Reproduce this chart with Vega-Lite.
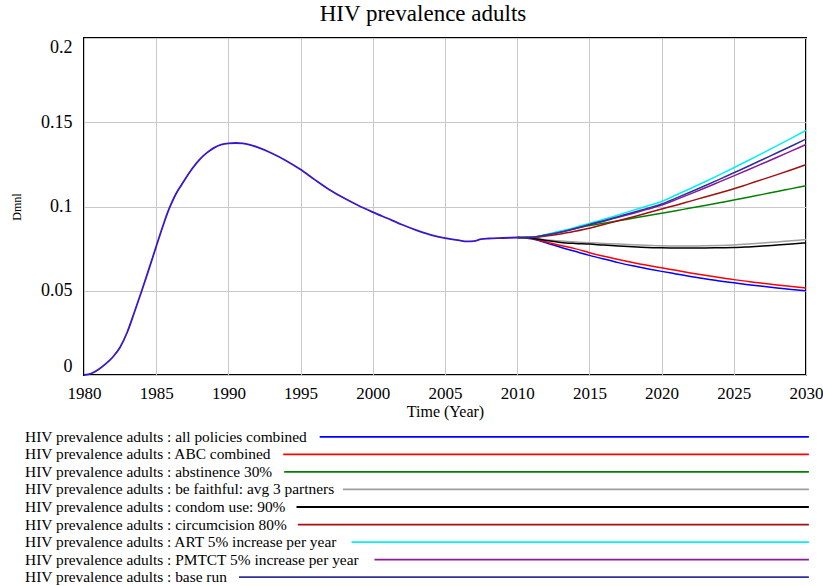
{
  "$schema": "https://vega.github.io/schema/vega-lite/v6.json",
  "background": "white",
  "padding": {"left": 9, "top": 2, "right": 10, "bottom": 0},
  "spacing": 8,
  "config": {"font": "Liberation Serif", "concat": {"spacing": 8}},
  "datasets": {
    "history": [
      {"year": 1980, "value": 0}, {"year": 1980.5, "value": 0.0009}, {"year": 1981, "value": 0.0033},
      {"year": 1981.5, "value": 0.0066}, {"year": 1982, "value": 0.0107}, {"year": 1982.5, "value": 0.0165},
      {"year": 1983, "value": 0.0255}, {"year": 1983.5, "value": 0.0375}, {"year": 1984, "value": 0.05},
      {"year": 1984.5, "value": 0.063}, {"year": 1985, "value": 0.0763}, {"year": 1985.5, "value": 0.0893},
      {"year": 1985.75, "value": 0.0955}, {"year": 1986, "value": 0.1008}, {"year": 1986.25, "value": 0.1055},
      {"year": 1986.5, "value": 0.1095}, {"year": 1986.75, "value": 0.1128}, {"year": 1987, "value": 0.1162},
      {"year": 1987.5, "value": 0.1225}, {"year": 1988, "value": 0.1278}, {"year": 1988.5, "value": 0.1318},
      {"year": 1989, "value": 0.1348}, {"year": 1989.5, "value": 0.1367}, {"year": 1990, "value": 0.1375},
      {"year": 1990.5, "value": 0.1377}, {"year": 1991, "value": 0.1375}, {"year": 1991.5, "value": 0.1366},
      {"year": 1992, "value": 0.1352}, {"year": 1993, "value": 0.1316}, {"year": 1994, "value": 0.1272},
      {"year": 1995, "value": 0.1219}, {"year": 1996, "value": 0.1158}, {"year": 1997, "value": 0.11},
      {"year": 1998, "value": 0.105}, {"year": 1999, "value": 0.1006}, {"year": 2000, "value": 0.0967},
      {"year": 2001, "value": 0.093}, {"year": 2002, "value": 0.0893}, {"year": 2003, "value": 0.086},
      {"year": 2004, "value": 0.0832}, {"year": 2005, "value": 0.0812}, {"year": 2006, "value": 0.0799},
      {"year": 2006.5, "value": 0.0793}, {"year": 2007, "value": 0.0795}, {"year": 2007.5, "value": 0.0806},
      {"year": 2008, "value": 0.081}, {"year": 2009, "value": 0.0813}, {"year": 2010, "value": 0.0816}
    ],
    "scenarios": [
      {"series": "all policies combined", "year": 2010, "value": 0.0816},
      {"series": "all policies combined", "year": 2011, "value": 0.0808},
      {"series": "all policies combined", "year": 2012, "value": 0.0784},
      {"series": "all policies combined", "year": 2013, "value": 0.0758},
      {"series": "all policies combined", "year": 2014, "value": 0.0734},
      {"series": "all policies combined", "year": 2015, "value": 0.071},
      {"series": "all policies combined", "year": 2016, "value": 0.0688},
      {"series": "all policies combined", "year": 2017, "value": 0.0667},
      {"series": "all policies combined", "year": 2018, "value": 0.0648},
      {"series": "all policies combined", "year": 2019, "value": 0.0631},
      {"series": "all policies combined", "year": 2020, "value": 0.0615},
      {"series": "all policies combined", "year": 2021, "value": 0.06},
      {"series": "all policies combined", "year": 2022, "value": 0.0585},
      {"series": "all policies combined", "year": 2023, "value": 0.0571},
      {"series": "all policies combined", "year": 2024, "value": 0.0558},
      {"series": "all policies combined", "year": 2025, "value": 0.0547},
      {"series": "all policies combined", "year": 2026, "value": 0.0536},
      {"series": "all policies combined", "year": 2027, "value": 0.0526},
      {"series": "all policies combined", "year": 2028, "value": 0.0517},
      {"series": "all policies combined", "year": 2029, "value": 0.0508},
      {"series": "all policies combined", "year": 2030, "value": 0.05},
      {"series": "ABC combined", "year": 2010, "value": 0.0816},
      {"series": "ABC combined", "year": 2011, "value": 0.081},
      {"series": "ABC combined", "year": 2012, "value": 0.079},
      {"series": "ABC combined", "year": 2013, "value": 0.0769},
      {"series": "ABC combined", "year": 2014, "value": 0.075},
      {"series": "ABC combined", "year": 2015, "value": 0.0726},
      {"series": "ABC combined", "year": 2016, "value": 0.0705},
      {"series": "ABC combined", "year": 2017, "value": 0.0686},
      {"series": "ABC combined", "year": 2018, "value": 0.0668},
      {"series": "ABC combined", "year": 2019, "value": 0.0651},
      {"series": "ABC combined", "year": 2020, "value": 0.0636},
      {"series": "ABC combined", "year": 2021, "value": 0.0621},
      {"series": "ABC combined", "year": 2022, "value": 0.0606},
      {"series": "ABC combined", "year": 2023, "value": 0.0592},
      {"series": "ABC combined", "year": 2024, "value": 0.0579},
      {"series": "ABC combined", "year": 2025, "value": 0.0566},
      {"series": "ABC combined", "year": 2026, "value": 0.0555},
      {"series": "ABC combined", "year": 2027, "value": 0.0544},
      {"series": "ABC combined", "year": 2028, "value": 0.0534},
      {"series": "ABC combined", "year": 2029, "value": 0.0525},
      {"series": "ABC combined", "year": 2030, "value": 0.0516},
      {"series": "abstinence 30%", "year": 2010, "value": 0.0816},
      {"series": "abstinence 30%", "year": 2011, "value": 0.0817},
      {"series": "abstinence 30%", "year": 2012, "value": 0.0832},
      {"series": "abstinence 30%", "year": 2013, "value": 0.0851},
      {"series": "abstinence 30%", "year": 2014, "value": 0.0869},
      {"series": "abstinence 30%", "year": 2015, "value": 0.0887},
      {"series": "abstinence 30%", "year": 2016, "value": 0.0901},
      {"series": "abstinence 30%", "year": 2017, "value": 0.0915},
      {"series": "abstinence 30%", "year": 2018, "value": 0.093},
      {"series": "abstinence 30%", "year": 2019, "value": 0.0945},
      {"series": "abstinence 30%", "year": 2020, "value": 0.096},
      {"series": "abstinence 30%", "year": 2021, "value": 0.0975},
      {"series": "abstinence 30%", "year": 2022, "value": 0.0991},
      {"series": "abstinence 30%", "year": 2023, "value": 0.1006},
      {"series": "abstinence 30%", "year": 2024, "value": 0.1022},
      {"series": "abstinence 30%", "year": 2025, "value": 0.1038},
      {"series": "abstinence 30%", "year": 2026, "value": 0.1055},
      {"series": "abstinence 30%", "year": 2027, "value": 0.1072},
      {"series": "abstinence 30%", "year": 2028, "value": 0.1089},
      {"series": "abstinence 30%", "year": 2029, "value": 0.1106},
      {"series": "abstinence 30%", "year": 2030, "value": 0.1123},
      {"series": "be faithful: avg 3 partners", "year": 2010, "value": 0.0816},
      {"series": "be faithful: avg 3 partners", "year": 2011, "value": 0.0813},
      {"series": "be faithful: avg 3 partners", "year": 2012, "value": 0.0803},
      {"series": "be faithful: avg 3 partners", "year": 2013, "value": 0.0795},
      {"series": "be faithful: avg 3 partners", "year": 2014, "value": 0.0789},
      {"series": "be faithful: avg 3 partners", "year": 2015, "value": 0.0785},
      {"series": "be faithful: avg 3 partners", "year": 2016, "value": 0.0781},
      {"series": "be faithful: avg 3 partners", "year": 2017, "value": 0.0777},
      {"series": "be faithful: avg 3 partners", "year": 2018, "value": 0.0773},
      {"series": "be faithful: avg 3 partners", "year": 2019, "value": 0.077},
      {"series": "be faithful: avg 3 partners", "year": 2020, "value": 0.0767},
      {"series": "be faithful: avg 3 partners", "year": 2021, "value": 0.0766},
      {"series": "be faithful: avg 3 partners", "year": 2022, "value": 0.0766},
      {"series": "be faithful: avg 3 partners", "year": 2023, "value": 0.0767},
      {"series": "be faithful: avg 3 partners", "year": 2024, "value": 0.0769},
      {"series": "be faithful: avg 3 partners", "year": 2025, "value": 0.0772},
      {"series": "be faithful: avg 3 partners", "year": 2026, "value": 0.0777},
      {"series": "be faithful: avg 3 partners", "year": 2027, "value": 0.0783},
      {"series": "be faithful: avg 3 partners", "year": 2028, "value": 0.079},
      {"series": "be faithful: avg 3 partners", "year": 2029, "value": 0.0797},
      {"series": "be faithful: avg 3 partners", "year": 2030, "value": 0.0804},
      {"series": "condom use: 90%", "year": 2010, "value": 0.0816},
      {"series": "condom use: 90%", "year": 2011, "value": 0.0812},
      {"series": "condom use: 90%", "year": 2012, "value": 0.0798},
      {"series": "condom use: 90%", "year": 2013, "value": 0.0787},
      {"series": "condom use: 90%", "year": 2014, "value": 0.0781},
      {"series": "condom use: 90%", "year": 2015, "value": 0.0777},
      {"series": "condom use: 90%", "year": 2016, "value": 0.0771},
      {"series": "condom use: 90%", "year": 2017, "value": 0.0766},
      {"series": "condom use: 90%", "year": 2018, "value": 0.0761},
      {"series": "condom use: 90%", "year": 2019, "value": 0.0757},
      {"series": "condom use: 90%", "year": 2020, "value": 0.0755},
      {"series": "condom use: 90%", "year": 2021, "value": 0.0754},
      {"series": "condom use: 90%", "year": 2022, "value": 0.0754},
      {"series": "condom use: 90%", "year": 2023, "value": 0.0754},
      {"series": "condom use: 90%", "year": 2024, "value": 0.0755},
      {"series": "condom use: 90%", "year": 2025, "value": 0.0756},
      {"series": "condom use: 90%", "year": 2026, "value": 0.076},
      {"series": "condom use: 90%", "year": 2027, "value": 0.0765},
      {"series": "condom use: 90%", "year": 2028, "value": 0.0771},
      {"series": "condom use: 90%", "year": 2029, "value": 0.0777},
      {"series": "condom use: 90%", "year": 2030, "value": 0.0784},
      {"series": "circumcision 80%", "year": 2010, "value": 0.0816},
      {"series": "circumcision 80%", "year": 2011, "value": 0.0816},
      {"series": "circumcision 80%", "year": 2012, "value": 0.0825},
      {"series": "circumcision 80%", "year": 2013, "value": 0.0837},
      {"series": "circumcision 80%", "year": 2014, "value": 0.0853},
      {"series": "circumcision 80%", "year": 2015, "value": 0.0871},
      {"series": "circumcision 80%", "year": 2016, "value": 0.0893},
      {"series": "circumcision 80%", "year": 2017, "value": 0.0915},
      {"series": "circumcision 80%", "year": 2018, "value": 0.0938},
      {"series": "circumcision 80%", "year": 2019, "value": 0.0961},
      {"series": "circumcision 80%", "year": 2020, "value": 0.0985},
      {"series": "circumcision 80%", "year": 2021, "value": 0.1008},
      {"series": "circumcision 80%", "year": 2022, "value": 0.1032},
      {"series": "circumcision 80%", "year": 2023, "value": 0.1056},
      {"series": "circumcision 80%", "year": 2024, "value": 0.108},
      {"series": "circumcision 80%", "year": 2025, "value": 0.1105},
      {"series": "circumcision 80%", "year": 2026, "value": 0.1133},
      {"series": "circumcision 80%", "year": 2027, "value": 0.1161},
      {"series": "circumcision 80%", "year": 2028, "value": 0.1189},
      {"series": "circumcision 80%", "year": 2029, "value": 0.1218},
      {"series": "circumcision 80%", "year": 2030, "value": 0.1248},
      {"series": "ART 5% increase per year", "year": 2010, "value": 0.0816},
      {"series": "ART 5% increase per year", "year": 2011, "value": 0.0817},
      {"series": "ART 5% increase per year", "year": 2012, "value": 0.0834},
      {"series": "ART 5% increase per year", "year": 2013, "value": 0.0854},
      {"series": "ART 5% increase per year", "year": 2014, "value": 0.0876},
      {"series": "ART 5% increase per year", "year": 2015, "value": 0.09},
      {"series": "ART 5% increase per year", "year": 2016, "value": 0.0924},
      {"series": "ART 5% increase per year", "year": 2017, "value": 0.095},
      {"series": "ART 5% increase per year", "year": 2018, "value": 0.0977},
      {"series": "ART 5% increase per year", "year": 2019, "value": 0.1003},
      {"series": "ART 5% increase per year", "year": 2020, "value": 0.103},
      {"series": "ART 5% increase per year", "year": 2021, "value": 0.1068},
      {"series": "ART 5% increase per year", "year": 2022, "value": 0.1107},
      {"series": "ART 5% increase per year", "year": 2023, "value": 0.1147},
      {"series": "ART 5% increase per year", "year": 2024, "value": 0.1188},
      {"series": "ART 5% increase per year", "year": 2025, "value": 0.123},
      {"series": "ART 5% increase per year", "year": 2026, "value": 0.1273},
      {"series": "ART 5% increase per year", "year": 2027, "value": 0.1317},
      {"series": "ART 5% increase per year", "year": 2028, "value": 0.1361},
      {"series": "ART 5% increase per year", "year": 2029, "value": 0.1406},
      {"series": "ART 5% increase per year", "year": 2030, "value": 0.1452},
      {"series": "PMTCT 5% increase per year", "year": 2010, "value": 0.0816},
      {"series": "PMTCT 5% increase per year", "year": 2011, "value": 0.0817},
      {"series": "PMTCT 5% increase per year", "year": 2012, "value": 0.083},
      {"series": "PMTCT 5% increase per year", "year": 2013, "value": 0.0847},
      {"series": "PMTCT 5% increase per year", "year": 2014, "value": 0.0868},
      {"series": "PMTCT 5% increase per year", "year": 2015, "value": 0.0891},
      {"series": "PMTCT 5% increase per year", "year": 2016, "value": 0.0913},
      {"series": "PMTCT 5% increase per year", "year": 2017, "value": 0.0936},
      {"series": "PMTCT 5% increase per year", "year": 2018, "value": 0.0959},
      {"series": "PMTCT 5% increase per year", "year": 2019, "value": 0.0983},
      {"series": "PMTCT 5% increase per year", "year": 2020, "value": 0.1008},
      {"series": "PMTCT 5% increase per year", "year": 2021, "value": 0.1041},
      {"series": "PMTCT 5% increase per year", "year": 2022, "value": 0.1075},
      {"series": "PMTCT 5% increase per year", "year": 2023, "value": 0.111},
      {"series": "PMTCT 5% increase per year", "year": 2024, "value": 0.1146},
      {"series": "PMTCT 5% increase per year", "year": 2025, "value": 0.1182},
      {"series": "PMTCT 5% increase per year", "year": 2026, "value": 0.1218},
      {"series": "PMTCT 5% increase per year", "year": 2027, "value": 0.1255},
      {"series": "PMTCT 5% increase per year", "year": 2028, "value": 0.1292},
      {"series": "PMTCT 5% increase per year", "year": 2029, "value": 0.133},
      {"series": "PMTCT 5% increase per year", "year": 2030, "value": 0.1368},
      {"series": "base run", "year": 2010, "value": 0.0816},
      {"series": "base run", "year": 2011, "value": 0.0817},
      {"series": "base run", "year": 2012, "value": 0.0831},
      {"series": "base run", "year": 2013, "value": 0.0848},
      {"series": "base run", "year": 2014, "value": 0.087},
      {"series": "base run", "year": 2015, "value": 0.0893},
      {"series": "base run", "year": 2016, "value": 0.0916},
      {"series": "base run", "year": 2017, "value": 0.094},
      {"series": "base run", "year": 2018, "value": 0.0964},
      {"series": "base run", "year": 2019, "value": 0.0989},
      {"series": "base run", "year": 2020, "value": 0.1015},
      {"series": "base run", "year": 2021, "value": 0.105},
      {"series": "base run", "year": 2022, "value": 0.1086},
      {"series": "base run", "year": 2023, "value": 0.1123},
      {"series": "base run", "year": 2024, "value": 0.1161},
      {"series": "base run", "year": 2025, "value": 0.12},
      {"series": "base run", "year": 2026, "value": 0.1239},
      {"series": "base run", "year": 2027, "value": 0.1279},
      {"series": "base run", "year": 2028, "value": 0.1319},
      {"series": "base run", "year": 2029, "value": 0.1359},
      {"series": "base run", "year": 2030, "value": 0.14}
    ],
    "legend": [
      {"series": "all policies combined", "label": "HIV prevalence adults : all policies combined"},
      {"series": "ABC combined", "label": "HIV prevalence adults : ABC combined"},
      {"series": "abstinence 30%", "label": "HIV prevalence adults : abstinence 30%"},
      {"series": "be faithful: avg 3 partners", "label": "HIV prevalence adults : be faithful: avg 3 partners"},
      {"series": "condom use: 90%", "label": "HIV prevalence adults : condom use: 90%"},
      {"series": "circumcision 80%", "label": "HIV prevalence adults : circumcision 80%"},
      {"series": "ART 5% increase per year", "label": "HIV prevalence adults : ART 5% increase per year"},
      {"series": "PMTCT 5% increase per year", "label": "HIV prevalence adults : PMTCT 5% increase per year"},
      {"series": "base run", "label": "HIV prevalence adults : base run"}
    ]
  },
  "vconcat": [
    {
      "title": {"text": "HIV prevalence adults", "fontSize": 23, "fontWeight": "normal", "font": "Liberation Serif", "color": "black", "offset": 12, "anchor": "middle", "dx": -22},
      "width": 722,
      "height": 337,
      "view": {"stroke": "black", "strokeWidth": 2},
      "encoding": {
        "x": {"field": "year", "type": "quantitative",
              "scale": {"domain": [1980, 2030], "nice": false, "zero": false},
              "axis": {"title": "Time (Year)", "titleFont": "Liberation Serif", "titleFontSize": 16, "titleFontWeight": "normal", "titleColor": "black", "titlePadding": 2,
                       "values": [1980, 1985, 1990, 1995, 2000, 2005, 2010, 2015, 2020, 2025, 2030], "format": "d",
                       "labelFont": "Liberation Serif", "labelFontSize": 17, "labelColor": "black", "labelPadding": 10, "labelFlush": false, "labelOverlap": false,
                       "ticks": false, "domain": false, "grid": true, "gridColor": "#c8c8c8", "gridWidth": 1}},
        "y": {"field": "value", "type": "quantitative",
              "scale": {"domain": [0, 0.2], "nice": false},
              "axis": {"title": "Dmnl", "titleFont": "Liberation Serif", "titleFontSize": 12, "titleFontWeight": "normal", "titleColor": "black", "titlePadding": 17,
                       "values": [0, 0.05, 0.1, 0.15, 0.2], "format": ".2~f",
                       "labelFont": "Liberation Serif", "labelFontSize": 18, "labelColor": "black", "labelPadding": 12, "labelFlush": true,
                       "ticks": false, "domain": false, "grid": true, "gridColor": "#c8c8c8", "gridWidth": 1}}
      },
      "layer": [
        {"data": {"name": "history"}, "mark": {"type": "line", "color": "#3a16c8", "strokeWidth": 1.8, "interpolate": "monotone"}},
        {"data": {"name": "scenarios"}, "mark": {"type": "line", "strokeWidth": 1.5, "interpolate": "monotone"},
         "encoding": {"color": {"field": "series", "type": "nominal", "legend": null,
            "scale": {"domain": ["all policies combined", "ABC combined", "abstinence 30%", "be faithful: avg 3 partners", "condom use: 90%", "circumcision 80%", "ART 5% increase per year", "PMTCT 5% increase per year", "base run"],
                      "range": ["#0000ff", "#ff0000", "#008000", "#a0a0a0", "#000000", "#a01010", "#00f0f0", "#8a1a9a", "#30309a"]}}}}
      ]
    },
    {
      "data": {"name": "legend"},
      "transform": [
        {"calculate": "length(replace(datum.label, regexp('[^iltfrjI:. ]', 'g'), ''))", "as": "nNarrow"},
        {"calculate": "length(replace(datum.label, regexp('[^mwM%]', 'g'), ''))", "as": "nWide"},
        {"calculate": "length(replace(datum.label, regexp('[^A-HJ-LN-Z]', 'g'), ''))", "as": "nCaps"},
        {"calculate": "length(datum.label) - datum.nNarrow - datum.nWide - datum.nCaps", "as": "nOther"},
        {"calculate": "-0.0817 + ((0.275 * datum.nNarrow + 0.8 * datum.nWide + 0.69 * datum.nCaps + 0.465 * datum.nOther) * 15.4 + 13) / 722", "as": "lineStart"}
      ],
      "width": 722,
      "height": 158,
      "view": {"stroke": null},
      "encoding": {
        "y": {"field": "series", "type": "nominal", "sort": null, "axis": null}
      },
      "layer": [
        {"mark": {"type": "rule", "strokeWidth": 1.8},
         "encoding": {
           "x": {"field": "lineStart", "type": "quantitative", "scale": {"domain": [0, 1], "nice": false, "zero": false}, "axis": null},
           "x2": {"datum": 1.004},
           "color": {"field": "series", "type": "nominal", "legend": null,
            "scale": {"domain": ["all policies combined", "ABC combined", "abstinence 30%", "be faithful: avg 3 partners", "condom use: 90%", "circumcision 80%", "ART 5% increase per year", "PMTCT 5% increase per year", "base run"],
                      "range": ["#0000ff", "#ff0000", "#008000", "#a0a0a0", "#000000", "#a01010", "#00f0f0", "#8a1a9a", "#30309a"]}}}},
        {"mark": {"type": "text", "align": "left", "baseline": "middle", "font": "Liberation Serif", "fontSize": 15.4, "fill": "black"},
         "encoding": {"x": {"datum": -0.0817, "type": "quantitative"}, "text": {"field": "label"}}}
      ]
    }
  ]
}
